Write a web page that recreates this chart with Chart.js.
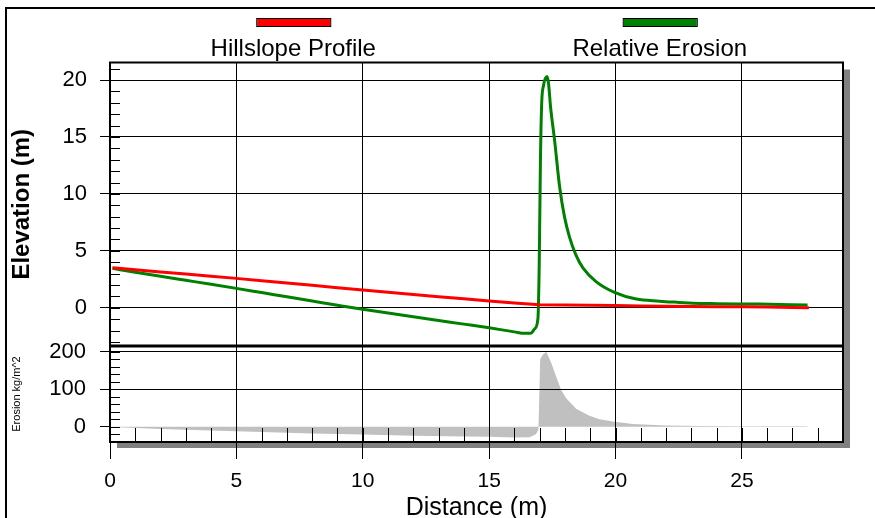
<!DOCTYPE html>
<html>
<head>
<meta charset="utf-8">
<script src="https://cdn.jsdelivr.net/npm/chart.js@4.4.0/dist/chart.umd.min.js"></script>
<style>
  html, body { margin: 0; padding: 0; background: #fff; }
  #wrap { width: 875px; height: 518px; }
</style>
</head>
<body>
<div id="wrap"><canvas id="profileChart" width="875" height="518"></canvas></div>
<script>
// Hillslope profile (red) - distance (m) / elevation (m)
const profileX = [0.1, 1, 2, 3, 4, 5, 6, 7, 8, 9, 10, 11, 12, 13, 14, 15, 16, 17, 18, 19, 20, 21, 22, 23, 24, 25, 26, 27, 27.65];
const profileY = [3.51, 3.33, 3.14, 2.96, 2.77, 2.58, 2.38, 2.17, 1.97, 1.76, 1.55, 1.36, 1.16, 0.97, 0.78, 0.59, 0.41, 0.27, 0.25, 0.22, 0.19, 0.15, 0.13, 0.11, 0.09, 0.08, 0.06, 0.03, 0.01];

// Relative erosion (green)
const relErosionX = [0.1, 1, 2, 3, 4, 5, 6, 7, 8, 9, 10, 11, 12, 13, 14, 15, 16, 16.4, 16.65, 16.8, 16.93, 16.98, 17.03, 17.08, 17.15, 17.29, 17.35, 17.43, 17.59, 17.79, 17.98, 18.18, 18.44, 18.71, 19.23, 19.96, 20.82, 21.74, 22.53, 23.06, 24, 25.69, 27.6];
const relErosionY = [3.46, 3.12, 2.76, 2.41, 2.06, 1.70, 1.33, 0.96, 0.59, 0.22, -0.14, -0.47, -0.80, -1.12, -1.44, -1.76, -2.12, -2.25, -2.25, -1.85, -0.95, 3.6, 13.0, 18.0, 19.5, 20.3, 19.7, 17.65, 14.7, 10.6, 8.0, 6.2, 4.6, 3.5, 2.3, 1.35, 0.76, 0.58, 0.47, 0.40, 0.36, 0.32, 0.24];

// Erosion kg/m^2 (grey fill, lower panel)
const erosionX = [0.1, 2, 4, 6, 8, 10, 12, 14, 15, 16, 16.6, 16.85, 16.95, 17.02, 17.12, 17.26, 17.46, 17.65, 17.85, 18.05, 18.44, 18.97, 19.37, 19.96, 20.68, 22.0, 23.3, 25, 27.6];
const erosionY = [-1, -6, -10, -14, -18, -21, -24, -26, -27, -29, -28, -20, -8, 180, 192, 200, 170, 134, 98, 76, 48, 29, 20, 13, 7, 3, 2, 1.5, 1];

// ticks
const xTicks = [0, 5, 10, 15, 20, 25];
const elevTicks = [0, 5, 10, 15, 20];
const erosionTicks = [0, 100, 200];
const xMinorStep = 1;
const elevMinorStep = 1;
const erosionMinorStep = 20;

const FONT = "'Liberation Sans', Arial, sans-serif";

function toPoints(xs, ys) {
    return xs.map((x, i) => ({ x: x, y: ys[i] }));
}

// kresleni pomocnych carek (minor ticks) pres skaly grafu
function minorTicks(ctx, scale, step, horizontal, area, len) {
    const first = Math.ceil(scale.min / step) * step;
    ctx.beginPath();
    for (let v = first; v <= scale.max + 1e-9; v += step) {
        const p = Math.round(scale.getPixelForValue(v)) + 0.5;
        if (horizontal) {
            ctx.moveTo(p, area.bottom);
            ctx.lineTo(p, area.bottom - len);
        } else {
            ctx.moveTo(area.left, p);
            ctx.lineTo(area.left + len, p);
        }
    }
    ctx.stroke();
}

const panelDecor = {
    id: 'panelDecor',
    beforeDraw(chart) {
        const { ctx, chartArea: a } = chart;
        ctx.save();
        // vnejsi ramecek
        ctx.strokeStyle = '#000';
        ctx.lineWidth = 2;
        ctx.strokeRect(6, 8, chart.width + 20, chart.height + 20);
        // stin
        ctx.fillStyle = '#808080';
        ctx.fillRect(a.right, a.top + 7, 7, a.height - 1);
        ctx.fillRect(a.left + 7, a.bottom, a.width, 6);
        ctx.restore();
    },
    afterDatasetsDraw(chart) {
        const { ctx, chartArea: a, scales } = chart;
        ctx.save();
        ctx.strokeStyle = '#000';
        ctx.lineWidth = 1;
        minorTicks(ctx, scales.x, xMinorStep, true, a, 14);
        minorTicks(ctx, scales.y, elevMinorStep, false, a, 10);
        minorTicks(ctx, scales.y2, erosionMinorStep, false, a, 10);
        // oddelovac panelu
        ctx.lineWidth = 3;
        ctx.beginPath();
        ctx.moveTo(a.left, scales.y2.top);
        ctx.lineTo(a.right, scales.y2.top);
        ctx.stroke();
        // ramecek grafu
        ctx.lineWidth = 2;
        ctx.strokeRect(a.left, a.top, a.width, a.height);
        ctx.restore();
    },
    afterDraw(chart) {
        // legenda: barevny pruh nad textem
        const { ctx, chartArea: a } = chart;
        const items = chart.data.datasets.filter(ds => ds.inLegend);
        ctx.save();
        items.forEach((ds, i) => {
            const cx = a.left + a.width * (0.25 + 0.5 * i);
            ctx.fillStyle = ds.borderColor;
            ctx.fillRect(cx - 36, 19, 73, 7);
            ctx.strokeStyle = '#000';
            ctx.lineWidth = 1;
            ctx.strokeRect(cx - 36.5, 18.5, 74, 8);
            ctx.fillStyle = '#000';
            ctx.font = '24px ' + FONT;
            ctx.textAlign = 'center';
            ctx.textBaseline = 'alphabetic';
            ctx.fillText(ds.label, cx, 56);
        });
        ctx.restore();
    }
};

const ctx = document.getElementById('profileChart').getContext('2d');
new Chart(ctx, {
    type: 'line',
    data: {
        datasets: [
            {
                label: 'Erosion kg/m^2',
                data: toPoints(erosionX, erosionY),
                yAxisID: 'y2',
                borderColor: 'rgba(0,0,0,0)',
                backgroundColor: '#c0c0c0',
                borderWidth: 1,
                fill: 'origin',
                pointRadius: 0
            },
            {
                label: 'Hillslope Profile',
                data: toPoints(profileX, profileY),
                yAxisID: 'y',
                borderColor: '#ff0000',
                borderWidth: 3,
                borderJoinStyle: 'round',
                pointRadius: 0,
                fill: false,
                inLegend: true
            },
            {
                label: 'Relative Erosion',
                data: toPoints(relErosionX, relErosionY),
                yAxisID: 'y',
                borderColor: '#008000',
                borderWidth: 3,
                borderJoinStyle: 'round',
                cubicInterpolationMode: 'monotone',
                pointRadius: 0,
                fill: false,
                inLegend: true
            }
        ]
    },
    options: {
        responsive: false,
        animation: false,
        events: [],
        layout: { padding: { left: 0, top: 62.5, right: 32, bottom: 0 } },
        plugins: {
            legend: { display: false },
            tooltip: { enabled: false },
            filler: { drawTime: 'beforeDraw' }
        },
        scales: {
            x: {
                type: 'linear',
                min: 0,
                max: 29,
                afterBuildTicks: s => { s.ticks = xTicks.map(v => ({ value: v })); },
                afterFit: s => { s.height = 76; },
                grid: { color: '#000', lineWidth: 1, tickLength: 17, tickColor: '#000' },
                border: { color: '#000', width: 2 },
                ticks: { font: { family: FONT, size: 21 }, color: '#000', padding: 10, maxRotation: 0, autoSkip: false },
                title: { display: true, text: 'Distance (m)', color: '#000', font: { family: FONT, size: 25, lineHeight: '20px' }, padding: 0 }
            },
            y: {
                type: 'linear',
                position: 'left',
                stack: 'panels',
                stackWeight: 283.5,
                weight: 2,
                min: -3.36,
                max: 21.54,
                afterBuildTicks: s => { s.ticks = elevTicks.map(v => ({ value: v })); },
                afterFit: s => { s.width = 110; },
                grid: { color: '#000', lineWidth: 1, tickLength: 10, tickColor: '#000' },
                border: { color: '#000', width: 2 },
                ticks: { font: { family: FONT, size: 22 }, color: '#000', padding: 13, autoSkip: false },
                title: { display: true, text: 'Elevation (m)', color: '#000', font: { family: FONT, size: 24, weight: 'bold', lineHeight: '24px' }, padding: { top: 10, bottom: 0 } }
            },
            y2: {
                type: 'linear',
                position: 'left',
                stack: 'panels',
                stackWeight: 96,
                weight: 1,
                min: -40.8,
                max: 215.2,
                afterBuildTicks: s => { s.ticks = erosionTicks.map(v => ({ value: v })); },
                afterFit: s => { s.width = 110; },
                grid: {
                    color: c => (c.tick && c.tick.value === 0) ? 'rgba(0,0,0,0)' : '#000',
                    lineWidth: 1, tickLength: 10, tickColor: '#000'
                },
                border: { color: '#000', width: 2 },
                ticks: { font: { family: FONT, size: 22 }, color: '#000', padding: 14, autoSkip: false },
                title: { display: true, text: 'Erosion kg/m^2', color: '#000', font: { family: FONT, size: 11, lineHeight: '12px' }, padding: { top: 11, bottom: 0 } }
            }
        }
    },
    plugins: [panelDecor]
});
</script>
</body>
</html>
